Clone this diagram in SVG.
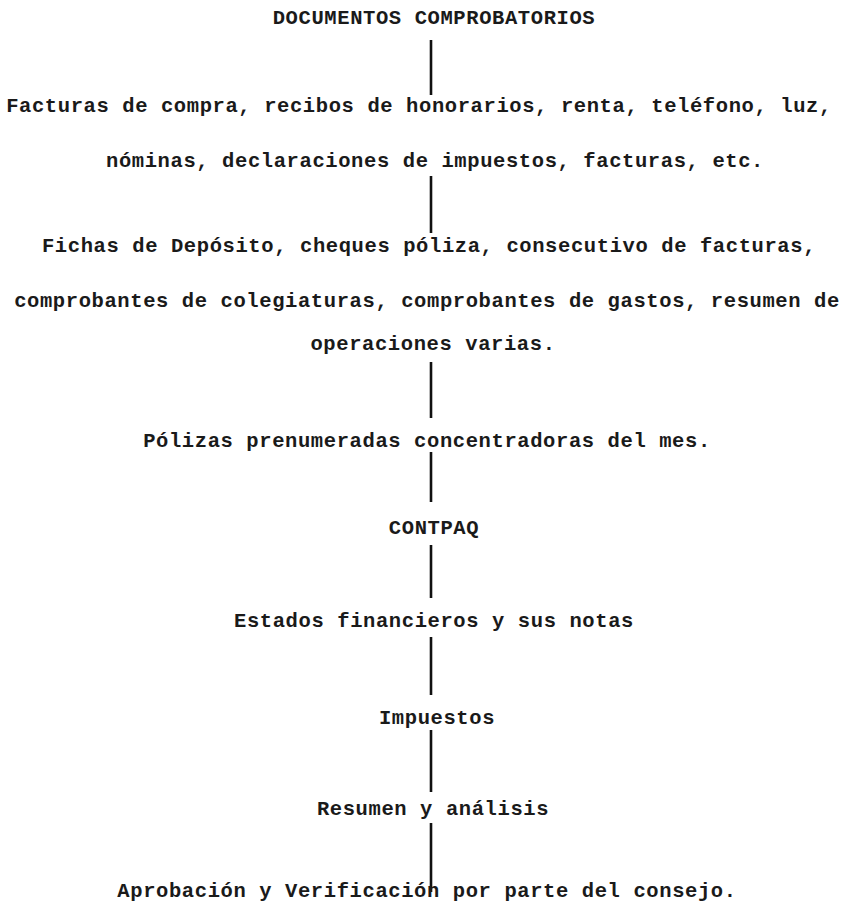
<svg xmlns="http://www.w3.org/2000/svg" width="862" height="909" viewBox="0 0 862 909">
<style>
  text { font-family: "Liberation Mono", "DejaVu Sans Mono", monospace; font-size: 20.5px; font-weight: bold; fill: #1a1a1a; text-anchor: middle; letter-spacing: 0.6px; }
  .conn line { stroke: #111; stroke-width: 2.6; }
</style>
<rect width="862" height="909" fill="#ffffff"/>
<g id="connectors" class="conn">
  <line x1="431" y1="40" x2="431" y2="95"/>
  <line x1="431" y1="176" x2="431" y2="233"/>
  <line x1="431" y1="362" x2="431" y2="418"/>
  <line x1="431" y1="452" x2="431" y2="502"/>
  <line x1="431" y1="545" x2="431" y2="598"/>
  <line x1="431" y1="637" x2="431" y2="695"/>
  <line x1="431" y1="730" x2="431" y2="792"/>
  <line x1="431" y1="823" x2="431" y2="892"/>
</g>
<g id="documentos"><text x="434" y="24">DOCUMENTOS COMPROBATORIOS</text></g>
<g id="facturas">
  <text x="419" y="112">Facturas de compra, recibos de honorarios, renta, teléfono, luz,</text>
  <text x="435" y="167">nóminas, declaraciones de impuestos, facturas, etc.</text>
</g>
<g id="fichas">
  <text x="429" y="252">Fichas de Depósito, cheques póliza, consecutivo de facturas,</text>
  <text x="427" y="307">comprobantes de colegiaturas, comprobantes de gastos, resumen de</text>
  <text x="433" y="350">operaciones varias.</text>
</g>
<g id="polizas"><text x="427" y="447">Pólizas prenumeradas concentradoras del mes.</text></g>
<g id="contpaq"><text x="434" y="534">CONTPAQ</text></g>
<g id="estados"><text x="434" y="627">Estados financieros y sus notas</text></g>
<g id="impuestos"><text x="437" y="724">Impuestos</text></g>
<g id="resumen"><text x="433" y="815">Resumen y análisis</text></g>
<g id="aprobacion"><text x="427" y="897">Aprobación y Verificación por parte del consejo.</text></g>
</svg>
